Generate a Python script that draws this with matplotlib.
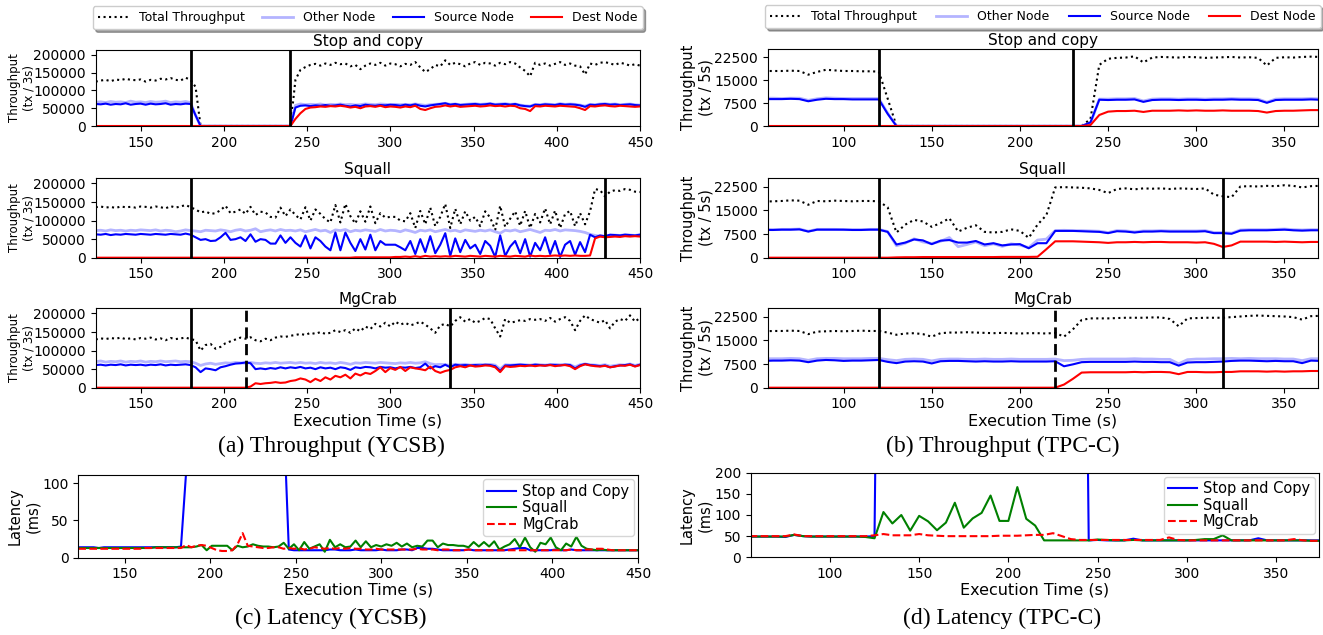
import numpy as np
import matplotlib
matplotlib.use("Agg")
import matplotlib.pyplot as plt

W, H = 1323, 635

# ---------------- YCSB throughput (tx / 3s, values in thousands) ----------------
t_ycsb = np.arange(123, 451, 3)

sc_total = [125, 128, 130, 126, 131, 129, 133, 130, 129, 131,
            125, 130, 128, 133, 131, 135, 130, 128, 136, 130,
            110, 0, 0, 0, 0, 0, 0, 0, 0, 0,
            0, 0, 0, 0, 0, 0, 0, 0, 0, 0,
            130, 158, 166, 172, 175, 170, 176, 172, 178, 174,
            176, 168, 172, 160, 170, 176, 172, 178, 170, 176,
            174, 168, 175, 172, 180, 165, 152, 160, 172, 168,
            185, 172, 178, 174, 168, 176, 180, 172, 178, 176,
            170, 178, 174, 180, 176, 165, 155, 140, 178, 172,
            176, 170, 175, 180, 172, 176, 170, 168, 145, 176,
            172, 178, 180, 176, 172, 178, 175, 170, 174, 170]
sc_other = [67, 68, 66, 69, 67, 68, 66, 70, 67, 68,
            66, 69, 67, 68, 70, 66, 68, 67, 69, 66,
            30, 0, 0, 0, 0, 0, 0, 0, 0, 0,
            0, 0, 0, 0, 0, 0, 0, 0, 0, 0,
            58, 62, 60, 61, 60, 62, 59, 61, 60, 62,
            60, 61, 59, 60, 62, 61, 60, 62, 61, 60,
            61, 60, 61, 60, 62, 60, 58, 60, 61, 62,
            64, 61, 62, 60, 61, 62, 63, 61, 62, 63,
            61, 62, 63, 61, 62, 59, 57, 56, 61, 60,
            62, 61, 60, 63, 61, 62, 61, 59, 56, 61,
            60, 62, 63, 61, 62, 60, 61, 62, 60, 59]
sc_source = [62, 61, 63, 60, 62, 61, 64, 60, 62, 63,
             60, 63, 61, 62, 64, 60, 62, 61, 63, 62,
             30, 0, 0, 0, 0, 0, 0, 0, 0, 0,
             0, 0, 0, 0, 0, 0, 0, 0, 0, 0,
             52, 57, 58, 56, 58, 57, 59, 57, 58, 60,
             57, 55, 58, 56, 60, 58, 57, 59, 58, 60,
             59, 57, 60, 58, 61, 57, 55, 58, 60, 62,
             64, 60, 62, 59, 60, 61, 62, 60, 61, 63,
             60, 61, 62, 60, 62, 58, 56, 55, 60, 59,
             61, 60, 59, 62, 60, 61, 60, 58, 54, 60,
             59, 61, 62, 60, 61, 59, 60, 61, 59, 58]
sc_dest = [0, 0, 0, 0, 0, 0, 0, 0, 0, 0,
           0, 0, 0, 0, 0, 0, 0, 0, 0, 0,
           0, 0, 0, 0, 0, 0, 0, 0, 0, 0,
           0, 0, 0, 0, 0, 0, 0, 0, 0, 0,
           20, 36, 48, 52, 53, 55, 54, 56, 55, 57,
           55, 52, 54, 50, 55, 56, 54, 57, 53, 55,
           54, 52, 55, 53, 57, 48, 45, 50, 54, 55,
           58, 55, 57, 54, 55, 56, 57, 55, 56, 58,
           56, 57, 55, 57, 56, 50, 48, 42, 56, 55,
           57, 56, 55, 57, 56, 55, 54, 50, 45, 56,
           55, 57, 58, 56, 55, 57, 56, 55, 54, 55]

sq_total = [136, 138, 135, 137, 134, 138, 136, 137, 135, 138,
            137, 135, 138, 136, 133, 139, 135, 138, 142, 136,
            130, 122, 125, 118, 120, 128, 140, 120, 124, 130,
            118, 137, 115, 124, 122, 110, 108, 135, 112, 130,
            115, 103, 136, 100, 130, 118, 104, 95, 142, 95,
            145, 112, 92, 125, 97, 138, 93, 120, 108, 110,
            110, 100, 98, 120, 80, 126, 90, 135, 85, 110,
            145, 80, 132, 90, 125, 100, 110, 85, 125, 108,
            75, 140, 83, 105, 125, 86, 126, 80, 118, 95,
            133, 90, 127, 80, 118, 126, 85, 120, 90, 125,
            185, 182, 165, 178, 182, 180, 185, 183, 178, 177]
sq_other = [73, 74, 72, 75, 73, 74, 72, 74, 73, 75,
            74, 73, 75, 72, 74, 73, 70, 72, 75, 73,
            72, 70, 74, 73, 72, 75, 73, 70, 74, 76,
            72, 74, 78, 70, 73, 75, 72, 76, 73, 74,
            72, 75, 70, 73, 76, 72, 74, 68, 75, 73,
            76, 70, 74, 72, 75, 73, 71, 76, 72, 74,
            73, 70, 75, 72, 68, 74, 72, 75, 70, 73,
            76, 72, 74, 70, 75, 73, 71, 74, 72, 75,
            70, 66, 74, 72, 75, 70, 73, 76, 72, 68,
            74, 73, 76, 72, 75, 74, 73, 71, 68, 63,
            60, 58, 57, 60, 61, 60, 62, 61, 60, 62]
sq_source = [63, 62, 64, 61, 63, 62, 64, 63, 62, 64,
             63, 62, 64, 63, 62, 64, 63, 62, 65, 62,
             55, 48, 50, 45, 46, 55, 67, 48, 50, 55,
             45, 63, 43, 50, 48, 38, 38, 60, 40, 55,
             40, 30, 60, 25, 55, 45, 30, 20, 68, 20,
             68, 40, 18, 50, 22, 62, 20, 45, 35, 35,
             35, 28, 20, 45, 10, 50, 15, 58, 12, 35,
             66, 5, 52, 15, 48, 25, 35, 10, 45, 32,
             2, 60, 5, 30, 45, 12, 50, 3, 40, 20,
             55, 10, 45, 2, 35, 45, 8, 42, 15, 62,
             55, 60, 58, 62, 61, 60, 62, 61, 60, 62]
sq_dest = [0, 0, 0, 0, 0, 0, 0, 0, 0, 0,
           0, 0, 0, 0, 0, 0, 0, 0, 0, 0,
           0, 0, 0, 0, 0, 0, 0, 0, 0, 0,
           0, 0, 0, 0, 0, 0, 0, 0, 0, 0,
           0, 0, 0, 0, 0, 0, 0, 0, 0, 0,
           0, 0, 1, 1, 1, 1, 1, 1, 1, 1,
           2, 2, 3, 2, 4, 2, 5, 3, 4, 3,
           4, 3, 5, 4, 3, 5, 4, 3, 5, 4,
           3, 5, 4, 3, 5, 4, 3, 6, 4, 5,
           4, 5, 6, 5, 6, 5, 6, 5, 5, 6,
           52, 57, 55, 56, 57, 56, 58, 57, 58, 57]

mg_total = [130, 133, 131, 134, 132, 135, 131, 133, 130, 134,
            132, 135, 130, 133, 128, 134, 131, 133, 135, 131,
            128, 100, 115, 118, 105, 110, 120, 125, 130, 135,
            132, 136, 128, 125, 132, 128, 135, 138, 137, 140,
            142, 145, 142, 148, 145, 150, 145, 148, 155, 150,
            155, 148, 160, 152, 165, 158, 172, 165, 175, 165,
            178, 170, 175, 168, 172, 178, 170, 160, 148, 168,
            172, 165, 180, 190, 178, 185, 175, 180, 188, 185,
            160, 138, 185, 175, 178, 182, 180, 185, 183, 185,
            180, 188, 178, 185, 190, 180, 155, 180, 195, 185,
            180, 175, 182, 160, 178, 185, 180, 195, 178, 188]
mg_other = [70, 72, 69, 71, 70, 72, 69, 71, 70, 72,
            69, 71, 70, 72, 70, 71, 72, 70, 71, 70,
            66, 60, 64, 66, 63, 65, 67, 66, 68, 67,
            66, 68, 66, 65, 67, 66, 68, 66, 67, 68,
            66, 68, 66, 67, 65, 68, 66, 67, 65, 68,
            66, 63, 67, 66, 68, 67, 66, 68, 67, 66,
            65, 67, 66, 68, 66, 67, 70, 65, 62, 63,
            62, 60, 63, 62, 63, 61, 62, 63, 62, 63,
            61, 50, 62, 61, 62, 63, 62, 61, 63, 62,
            61, 62, 63, 62, 63, 62, 56, 62, 64, 62,
            61, 60, 62, 58, 60, 62, 61, 64, 60, 63]
mg_source = [61, 62, 60, 62, 61, 63, 60, 62, 61, 62,
             60, 62, 61, 63, 60, 62, 61, 62, 63, 61,
             55, 42, 52, 50, 47, 55, 58, 62, 65, 66,
             68, 66, 50, 52, 50, 53, 51, 55, 52, 55,
             53, 56, 52, 54, 50, 55, 52, 54, 50, 55,
             53, 48, 55, 53, 56, 55, 52, 56, 54, 55,
             52, 55, 54, 56, 53, 55, 65, 52, 58, 55,
             62, 55, 62, 60, 61, 60, 61, 60, 62, 61,
             58, 45, 60, 60, 61, 62, 61, 60, 62, 61,
             60, 62, 61, 60, 62, 61, 52, 60, 64, 61,
             60, 58, 60, 55, 58, 60, 61, 63, 58, 62]
mg_dest = [0, 0, 0, 0, 0, 0, 0, 0, 0, 0,
           0, 0, 0, 0, 0, 0, 0, 0, 0, 0,
           0, 0, 0, 0, 0, 0, 0, 0, 0, 0,
           0, 3, 12, 10, 12, 13, 15, 13, 14, 18,
           20, 25, 22, 15, 24, 18, 28, 22, 32, 28,
           35, 25, 38, 33, 40, 37, 45, 55, 42, 53,
           48, 56, 45, 55, 52, 50, 47, 57, 45, 40,
           45, 48, 55, 58, 55, 60, 57, 58, 60, 59,
           55, 42, 58, 56, 57, 59, 58, 60, 58, 60,
           59, 61, 58, 60, 61, 58, 50, 58, 63, 60,
           58, 57, 59, 55, 57, 60, 59, 62, 57, 61]

# ---------------- TPC-C throughput (tx / 5s) ----------------
t_tpcc = np.arange(55, 371, 5)

st_total = [18000, 18000, 18000, 18100, 18000, 16800, 17700, 18400, 18200, 18000,
            18000, 17900, 17900, 17800, 9000, 0, 0, 0, 0, 0,
            0, 0, 0, 0, 0, 0, 0, 0, 0, 0,
            0, 0, 0, 0, 0, 0, 0, 2300, 20000, 22000,
            22300, 22400, 22800, 20800, 22400, 22600, 22500, 22400, 22600, 22500,
            22300, 22400, 22500, 22600, 22400, 22500, 22300, 19800, 22300, 22500,
            22400, 22600, 22700, 22600]
st_other = [9100, 9100, 9000, 9100, 9100, 8400, 8900, 9200, 9100, 9000,
            9000, 9000, 9000, 9000, 4200, 0, 0, 0, 0, 0,
            0, 0, 0, 0, 0, 0, 0, 0, 0, 0,
            0, 0, 0, 0, 0, 0, 0, 800, 8800, 8800,
            8900, 8900, 9000, 8200, 8800, 8900, 8900, 8800, 8900, 8900,
            8800, 8900, 8900, 9000, 8900, 8900, 8800, 7800, 8800, 8900,
            8900, 8900, 9000, 8900]
st_source = [8800, 8800, 8800, 8900, 8800, 8100, 8600, 8900, 8800, 8800,
             8700, 8700, 8700, 8700, 4000, 0, 0, 0, 0, 0,
             0, 0, 0, 0, 0, 0, 0, 0, 0, 0,
             0, 0, 0, 0, 0, 0, 0, 1200, 8600, 8500,
             8600, 8600, 8700, 7900, 8500, 8600, 8600, 8500, 8600, 8600,
             8500, 8600, 8600, 8700, 8600, 8600, 8500, 7600, 8500, 8600,
             8600, 8600, 8700, 8600]
st_dest = [0, 0, 0, 0, 0, 0, 0, 0, 0, 0,
           0, 0, 0, 0, 0, 0, 0, 0, 0, 0,
           0, 0, 0, 0, 0, 0, 0, 0, 0, 0,
           0, 0, 0, 0, 0, 0, 0, 300, 3600, 4700,
           4900, 4900, 5000, 4600, 5000, 5000, 5000, 5100, 5000, 5100,
           5000, 5000, 5100, 5000, 5000, 5000, 4900, 4400, 4900, 5000,
           5000, 5100, 5200, 5200]

sq2_total = [17800, 17900, 18000, 18200, 18100, 16800, 18000, 17900, 18100, 18000,
             17900, 18000, 18000, 17900, 16000, 8000, 10500, 12000, 11500, 9800,
             11000, 12500, 8300, 9500, 10300, 8200, 8000, 8200, 9000, 8500,
             6300, 10500, 13500, 22300, 22400, 22300, 22200, 22000, 21500, 20500,
             21800, 22000, 21700, 22000, 21900, 22000, 21800, 22000, 21900, 21800,
             22000, 20000, 19500, 19200, 22600, 22700, 22600, 22800, 22700, 23000,
             22800, 22300, 22700, 22800]
sq2_other = [9000, 8900, 9000, 9000, 9100, 8400, 9000, 9000, 9000, 8900,
             8900, 8900, 9000, 9000, 8300, 3800, 4600, 6000, 5000, 4500,
             5200, 6400, 3500, 4200, 5000, 3800, 4400, 3600, 4400, 4000,
             3200, 5600, 5900, 8600, 8700, 8600, 8600, 8500, 8400, 8000,
             8600, 8500, 8200, 8500, 8500, 8600, 8500, 8500, 8500, 8500,
             8600, 8000, 8000, 7800, 8800, 8900, 8900, 8900, 9000, 9100,
             8900, 8800, 8900, 8900]
sq2_source = [8800, 8800, 8900, 8900, 9000, 8300, 8900, 8900, 8900, 8900,
              8800, 8800, 8900, 8900, 8200, 4200, 4800, 5800, 5500, 4300,
              5400, 5600, 4800, 4800, 5300, 4200, 4600, 3900, 4200, 4300,
              3000, 4600, 4600, 8500, 8500, 8500, 8400, 8300, 8200, 7800,
              8400, 8300, 8000, 8300, 8300, 8400, 8300, 8300, 8300, 8300,
              8400, 7800, 7800, 7600, 8600, 8700, 8700, 8700, 8800, 8900,
              8700, 8600, 8700, 8700]
sq2_dest = [0, 0, 0, 0, 0, 0, 0, 0, 0, 0,
            0, 0, 0, 0, 0, 100, 150, 150, 200, 200,
            200, 200, 200, 200, 200, 200, 200, 250, 250, 250,
            250, 300, 2700, 5200, 5200, 5200, 5100, 5000, 4900, 4700,
            4900, 4900, 5000, 4900, 5000, 5000, 4900, 4900, 4900, 4800,
            4900, 4400, 3400, 3900, 5100, 5100, 5100, 5100, 5000, 5100,
            5000, 4900, 5000, 5000]

mg2_total = [17900, 18000, 18000, 18100, 18000, 17000, 17800, 17900, 18000, 17900,
             18000, 18100, 18000, 18000, 17500, 16800, 17200, 17300, 17000, 16200,
             17300, 17500, 17500, 17600, 17500, 17400, 17300, 17400, 17300, 17200,
             17300, 17300, 17200, 17400, 16200, 18500, 21500, 22000, 22000, 22000,
             22100, 22200, 22200, 22200, 22300, 22300, 21800, 19500, 22000, 22100,
             22200, 22200, 22200, 22400, 22600, 22800, 22900, 22800, 22700, 22600,
             22400, 21600, 22700, 22800]
mg2_other = [9200, 9200, 9200, 9300, 9200, 8700, 9200, 9300, 9300, 9200,
             9200, 9200, 9300, 9300, 8900, 8600, 9000, 9100, 9000, 8500,
             9000, 9100, 9100, 9000, 9000, 9100, 9000, 9000, 9100, 9000,
             9000, 9000, 9000, 9100, 8600, 8700, 9000, 9100, 9100, 9100,
             9100, 9100, 9200, 9100, 9100, 9000, 9000, 7600, 8900, 9100,
             9100, 9200, 9200, 9300, 9200, 9300, 9200, 9200, 9200, 9100,
             9100, 8600, 9200, 9200]
mg2_source = [8500, 8600, 8600, 8700, 8600, 8100, 8600, 8800, 8700, 8500,
              8600, 8600, 8700, 8800, 8200, 7800, 8300, 8400, 8300, 7700,
              8400, 8500, 8500, 8400, 8300, 8400, 8300, 8300, 8400, 8300,
              8300, 8300, 8300, 8400, 6800, 7400, 8100, 8200, 8200, 8200,
              8200, 8200, 8300, 8200, 8200, 8100, 8100, 7000, 8000, 8100,
              8100, 8200, 8300, 8500, 8600, 8600, 8500, 8400, 8500, 8400,
              8400, 7800, 8600, 8500]
mg2_dest = [0, 0, 0, 0, 0, 0, 0, 0, 0, 0,
            0, 0, 0, 0, 0, 0, 0, 0, 0, 0,
            0, 0, 0, 0, 0, 0, 0, 0, 0, 0,
            0, 0, 0, 0, 1000, 2800, 4800, 4900, 4900, 4900,
            4900, 4900, 5000, 4900, 5000, 5000, 4900, 4300, 5000, 5000,
            4900, 4900, 5000, 5000, 5200, 5200, 5200, 5100, 5200, 5100,
            5200, 5200, 5300, 5300]

# ---------------- Latency (ms) ----------------
lat_sc = [14, 14, 14, 14, 13, 14, 14, 14, 14, 14,
          14, 14, 14, 14, 14, 14, 14, 14, 14, 14,
          15, 115, 3000, 3000, 3000, 3000, 3000, 3000, 3000, 3000,
          3000, 3000, 3000, 3000, 3000, 3000, 3000, 3000, 3000, 3000,
          190, 11, 10, 10, 10, 10, 10, 10, 10, 11,
          11, 10, 10, 10, 11, 10, 10, 10, 10, 11,
          10, 10, 10, 11, 11, 10, 13, 13, 12, 12,
          11, 10, 10, 10, 10, 10, 11, 10, 10, 10,
          10, 10, 10, 10, 11, 12, 13, 13, 10, 10,
          10, 10, 10, 11, 10, 10, 11, 10, 10, 10,
          10, 10, 10, 10, 10, 10, 10, 10, 10, 10]
lat_sq = [13, 13, 13, 13, 13, 13, 13, 13, 13, 13,
          13, 13, 13, 13, 13, 14, 14, 14, 14, 14,
          14, 14, 14, 15, 17, 10, 16, 16, 16, 16,
          10, 16, 14, 15, 18, 16, 15, 15, 14, 15,
          20, 12, 18, 10, 21, 12, 15, 18, 8, 24,
          14, 18, 14, 15, 23, 14, 22, 14, 17, 15,
          18, 16, 20, 15, 19, 14, 16, 15, 23, 23,
          14, 19, 17, 17, 16, 16, 14, 21, 15, 21,
          15, 22, 11, 15, 18, 25, 14, 27, 14, 8,
          20, 18, 27, 14, 10, 19, 15, 28, 16, 12,
          11, 10, 11, 10, 10, 10, 10, 10, 10, 10]
lat_mg = [12, 12, 12, 12, 12, 12, 12, 12, 12, 12,
          12, 12, 12, 13, 13, 13, 13, 13, 13, 13,
          13, 17, 14, 16, 17, 16, 13, 10, 9, 9,
          10, 18, 33, 16, 15, 14, 13, 13, 14, 14,
          12, 13, 12, 13, 11, 12, 14, 13, 12, 13,
          12, 13, 12, 13, 12, 12, 11, 11, 12, 11,
          11, 11, 11, 11, 11, 11, 12, 11, 11, 11,
          10, 11, 11, 10, 10, 10, 11, 10, 10, 10,
          10, 10, 10, 10, 10, 10, 10, 10, 10, 10,
          10, 10, 10, 10, 10, 10, 11, 10, 10, 11,
          11, 12, 12, 11, 10, 10, 10, 10, 10, 10]

t_lat2 = np.arange(55, 376, 5)
lat2_sc = [49, 49, 49, 49, 48, 53, 50, 49, 49, 49,
           49, 49, 49, 49, 50, 2000, 2000, 2000, 2000, 2000,
           2000, 2000, 2000, 2000, 2000, 2000, 2000, 2000, 2000, 2000,
           2000, 2000, 2000, 2000, 2000, 2000, 2000, 2000, 40, 41,
           40, 40, 40, 44, 40, 40, 40, 40, 40, 40,
           40, 40, 40, 40, 40, 40, 40, 45, 40, 40,
           40, 40, 40, 40, 40]
lat2_sq = [49, 49, 49, 49, 49, 53, 50, 49, 49, 49,
           49, 49, 49, 48, 45, 107, 80, 100, 63, 98,
           85, 64, 82, 129, 70, 92, 105, 146, 86, 86,
           166, 91, 75, 40, 40, 40, 40, 40, 40, 42,
           41, 40, 40, 41, 40, 40, 40, 40, 40, 40,
           41, 43, 43, 52, 40, 40, 40, 40, 40, 40,
           40, 40, 40, 39, 39]
lat2_mg = [50, 50, 50, 50, 50, 54, 50, 50, 50, 50,
           50, 50, 50, 50, 52, 55, 52, 52, 52, 55,
           52, 51, 50, 50, 50, 50, 50, 50, 51, 51,
           51, 52, 53, 53, 57, 50, 43, 41, 41, 41,
           41, 41, 41, 41, 41, 41, 41, 47, 41, 40,
           40, 40, 40, 40, 40, 40, 40, 40, 40, 40,
           40, 43, 40, 39, 39]

titles = ["Stop and copy", "Squall", "MgCrab"]
ycsb_lines = [(sc_total, sc_other, sc_source, sc_dest),
              (sq_total, sq_other, sq_source, sq_dest),
              (mg_total, mg_other, mg_source, mg_dest)]
tpcc_lines = [(st_total, st_other, st_source, st_dest),
              (sq2_total, sq2_other, sq2_source, sq2_dest),
              (mg2_total, mg2_other, mg2_source, mg2_dest)]
ycsb_marks = [[(180, "-"), (240, "-")], [(180, "-"), (429, "-")],
              [(180, "-"), (213, "--"), (336, "-")]]
tpcc_marks = [[(120, "-"), (230, "-")], [(120, "-"), (315, "-")],
              [(120, "-"), (220, "--"), (315, "-")]]

OTHER = "#b4b4ff"

fig = plt.figure(figsize=(W / 100, H / 100), dpi=100)


def px_axes(x0, y0, x1, y1):
    return fig.add_axes([x0 / W, 1 - y1 / H, (x1 - x0) / W, (y1 - y0) / H])


def draw_throughput(ax, t, series, scale, marks):
    total, other, source, dest = [np.array(s) * scale for s in series]
    ax.plot(t, total, color="k", ls=":", lw=1.5, label="Total Throughput")
    ax.plot(t, other, color=OTHER, lw=2, label="Other Node")
    ax.plot(t, source, color="blue", lw=1.5, label="Source Node")
    ax.plot(t, dest, color="red", lw=1.5, label="Dest Node")
    for x, ls in marks:
        if ls == "--":
            ax.axvline(x, color="k", lw=2, ls=(0, (4, 2)))
        else:
            ax.axvline(x, color="k", lw=2)
    ax.tick_params(labelsize=10)


rows_y = [(50, 126), (178.3, 257.7), (308.3, 387.7)]
left_axes, right_axes = [], []
for i in range(3):
    y0, y1 = rows_y[i]
    ax = px_axes(95.7, y0, 640, y1)
    draw_throughput(ax, t_ycsb, ycsb_lines[i], 1000, ycsb_marks[i])
    ax.set_xlim(123, 450)
    ax.set_ylim(0, 214000)
    ax.set_yticks([0, 50000, 100000, 150000, 200000])
    ax.set_xticks(range(150, 451, 50))
    ax.set_title(titles[i], fontsize=11, pad=3)
    ax.set_ylabel("Throughput\n(tx / 3s)", fontsize=8.5)
    ax.yaxis.set_label_coords(-0.11, 0.5)
    left_axes.append(ax)

    ax = px_axes(767.7, y0 - (1 if i == 0 else 0), 1318, y1)
    draw_throughput(ax, t_tpcc, tpcc_lines[i], 1, tpcc_marks[i])
    ax.set_xlim(57, 369)
    ax.set_ylim(0, 25200)
    ax.set_yticks([0, 7500, 15000, 22500])
    ax.set_xticks(range(100, 351, 50))
    ax.set_title(titles[i], fontsize=11, pad=3)
    ax.set_ylabel("Throughput\n(tx / 5s)", fontsize=10.5)
    ax.yaxis.set_label_coords(-0.098, 0.5)
    right_axes.append(ax)

left_axes[2].set_xlabel("Execution Time (s)", fontsize=11.5, labelpad=1.5)
right_axes[2].set_xlabel("Execution Time (s)", fontsize=11.5, labelpad=1.5)

for ax in (left_axes[0], right_axes[0]):
    ax.legend(loc="lower left", bbox_to_anchor=(-0.005, 1.27, 1.01, 0.3),
              mode="expand", ncol=4, fontsize=9, borderaxespad=0,
              shadow=True, handlelength=2.5)

# latency panels
ax = px_axes(78.3, 475, 638, 557.7)
ax.plot(t_ycsb, lat_sc, color="blue", lw=1.5, label="Stop and Copy")
ax.plot(t_ycsb, lat_sq, color="green", lw=1.5, label="Squall")
ax.plot(t_ycsb, lat_mg, color="red", lw=1.5, ls="--", label="MgCrab")
ax.set_xlim(123, 450)
ax.set_ylim(0, 111)
ax.set_yticks([0, 50, 100])
ax.set_xticks(range(150, 451, 50))
ax.tick_params(labelsize=10)
ax.set_xlabel("Execution Time (s)", fontsize=11.5, labelpad=1)
ax.set_ylabel("Latency\n(ms)", fontsize=10.5)
ax.yaxis.set_label_coords(-0.068, 0.5)
ax.legend(loc="upper right", fontsize=10.5, labelspacing=0.1, borderpad=0.3,
          handletextpad=0.4, handlelength=2, borderaxespad=0.3)

ax = px_axes(751, 472.7, 1319, 557.3)
ax.plot(t_lat2, lat2_sc, color="blue", lw=1.5, label="Stop and Copy")
ax.plot(t_lat2, lat2_sq, color="green", lw=1.5, label="Squall")
ax.plot(t_lat2, lat2_mg, color="red", lw=1.5, ls="--", label="MgCrab")
ax.set_xlim(55.8, 374)
ax.set_ylim(0, 200)
ax.set_yticks([0, 50, 100, 150, 200])
ax.set_xticks(range(100, 351, 50))
ax.tick_params(labelsize=10)
ax.set_xlabel("Execution Time (s)", fontsize=11.5, labelpad=1)
ax.set_ylabel("Latency\n(ms)", fontsize=10.5)
ax.yaxis.set_label_coords(-0.069, 0.5)
ax.legend(loc="upper right", fontsize=10.5, labelspacing=0.1, borderpad=0.3,
          handletextpad=0.4, handlelength=2, borderaxespad=0.3)

cap = dict(fontsize=17, family="Liberation Serif", ha="center", va="center")
fig.text(331 / W, 1 - 446 / H, "(a) Throughput (YCSB)", **cap)
fig.text(1003 / W, 1 - 446 / H, "(b) Throughput (TPC-C)", **cap)
fig.text(331 / W, 1 - 618 / H, "(c) Latency (YCSB)", **cap)
fig.text(1002 / W, 1 - 618 / H, "(d) Latency (TPC-C)", **cap)

fig.savefig("out.png", dpi=100)
